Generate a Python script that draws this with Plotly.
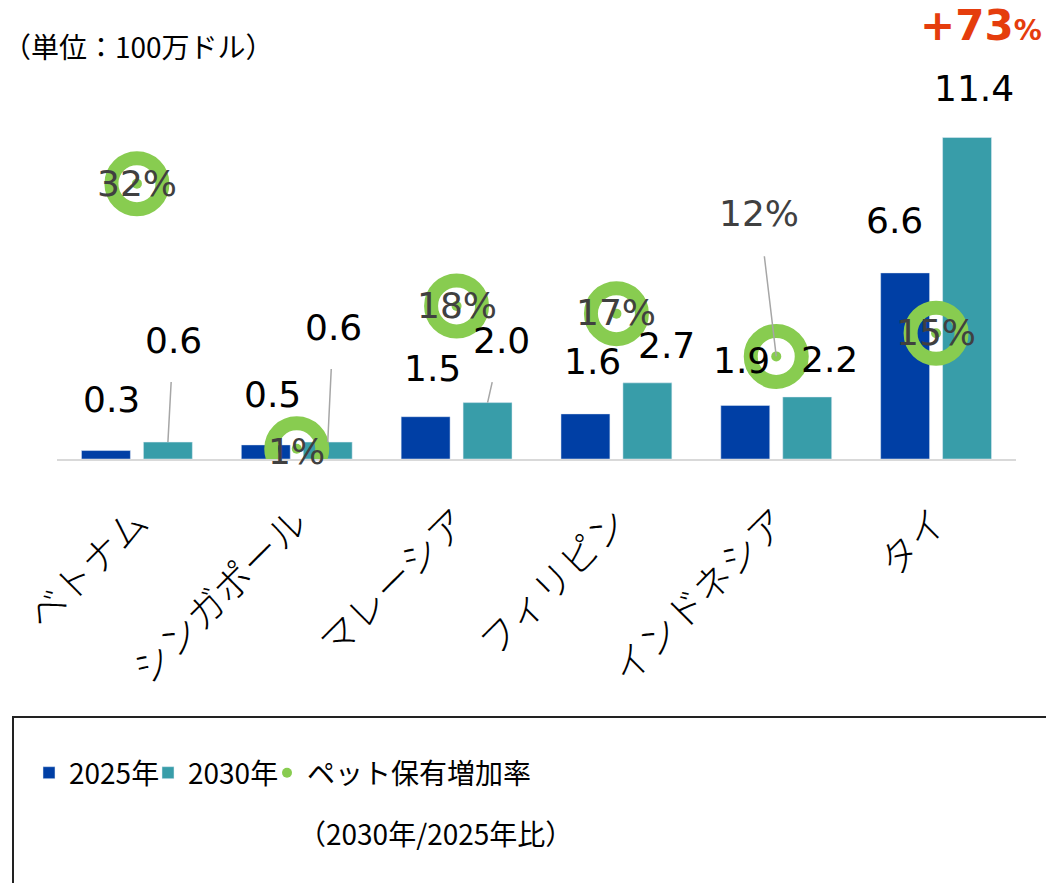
import plotly.graph_objects as go

# ---------------- data ----------------
categories = ["ベトナム", "シンガポール", "マレーシア", "フィリピン", "インドネシア", "タイ"]
sales_2025 = [0.3, 0.5, 1.5, 1.6, 1.9, 6.6]      # 100万ドル
sales_2030 = [0.6, 0.6, 2.0, 2.7, 2.2, 11.4]     # 100万ドル
pet_growth = [32.2, 1.2, 17.9, 17.0, 12.0, 14.7]  # % (2030年/2025年比)

series_names = ["2025年", "2030年"]
growth_name = "ペット保有増加率"
growth_note = "（2030年/2025年比）"
unit_title = "（単位：100万ドル）"

# ---------------- style ----------------
BLUE = "#003FA5"
TEAL = "#389DA9"
GREEN = "#88CC50"
RED = "#E53D0D"
LEADER = "#A6A6A6"
NUM_FONT = "DejaVu Sans"
JP_FONT = "Noto Sans CJK JP"

W, H = 1046, 883
L, R, T, B = 57, 30, 60, 424
PLOT_H = H - T - B
PLOT_W = W - L - R
PX_PER_UNIT = 28.2
PX_PER_PCT = 8.551
BAR_SHIFT = 31

# label offsets (dx, dy up, leader line?) relative to the top centre of each bar
off_2025 = [(5.5, 51.5, False), (6.5, 50, False), (6.5, 48, False),
            (7, 52, False), (-3.5, 45, False), (-10.5, 52, False)]
off_2030 = [(5.5, 102, True), (5.5, 115, True), (14, 62, True),
            (19, 37, False), (22.5, 37, False), (6.5, 49.5, False)]
off_pct = [(0, 0, False), (0, -2.5, False), (0, 0, False),
           (0, 1, False), (-17, 143, True), (0, 1, False)]

fig = go.Figure()
fig.add_bar(x=categories, y=sales_2025, name=series_names[0], marker_color=BLUE,
            hoverinfo="skip")
fig.add_bar(x=categories, y=sales_2030, name=series_names[1], marker_color=TEAL,
            hoverinfo="skip")
fig.add_scatter(x=categories, y=pet_growth, yaxis="y2", mode="markers",
                marker=dict(symbol="circle-open", size=51, color=GREEN,
                            line=dict(width=14)),
                showlegend=False, legendgroup="g", hoverinfo="skip")
fig.add_scatter(x=categories, y=pet_growth, yaxis="y2", mode="markers",
                marker=dict(symbol="circle", size=10, color=GREEN),
                name=growth_name, legendgroup="g", legendwidth=260,
                hoverinfo="skip")

ann = []

def value_label(cat, val, text, yref, shift, off, color, startoff=20):
    dx, dy, leader = off
    a = dict(x=cat, y=val, xref="x", yref=yref, text=text,
             font=dict(family=NUM_FONT, size=36, color=color), xshift=shift)
    if leader:
        a.update(showarrow=True, ax=dx, ay=-dy, arrowhead=0, arrowwidth=1.5,
                 arrowcolor=LEADER, startstandoff=startoff)
    else:
        a.update(showarrow=False, xanchor="center", yanchor="middle",
                 xshift=shift + dx, yshift=dy)
    return a

for i, c in enumerate(categories):
    ann.append(value_label(c, sales_2025[i], f"{sales_2025[i]:.1f}", "y", -BAR_SHIFT,
                           off_2025[i], "black"))
    ann.append(value_label(c, sales_2030[i], f"{sales_2030[i]:.1f}", "y", BAR_SHIFT,
                           off_2030[i], "black"))
    ann.append(value_label(c, pet_growth[i], f"{round(pet_growth[i])}%", "y2", 0,
                           off_pct[i], "#404040", startoff=21))

# growth of the largest market (タイ)
tai = categories.index("タイ")
growth = round((sales_2030[tai] / sales_2025[tai] - 1) * 100)
ann.append(dict(x=categories[tai], y=sales_2030[tai], xref="x", yref="y",
                text=f"<b>+{growth}<span style='font-size:28px'>%</span></b>",
                showarrow=False, xanchor="center", yanchor="middle",
                xshift=44.5, yshift=112,
                font=dict(family=NUM_FONT, size=42, color=RED)))

# unit title
ann.append(dict(x=(1 - L) / PLOT_W, y=(H - B - 46) / PLOT_H, xref="paper", yref="paper",
                text=unit_title, showarrow=False, xanchor="left", yanchor="middle",
                font=dict(family=JP_FONT, size=28, color="black")))
# legend note
ann.append(dict(x=(296 - L) / PLOT_W, y=(H - B - 833) / PLOT_H, xref="paper", yref="paper",
                text=growth_note, showarrow=False, xanchor="left", yanchor="middle",
                font=dict(family=JP_FONT, size=28, color="black")))

shapes = [dict(type="rect", xref="paper", yref="paper",
               x0=(13 - L) / PLOT_W, x1=1.3,
               y0=-1.5, y1=(H - B - 717) / PLOT_H,
               line=dict(color="#222222", width=2), fillcolor="rgba(0,0,0,0)")]

fig.update_layout(
    width=W, height=H,
    margin=dict(l=L, r=R, t=T, b=B, autoexpand=False),
    plot_bgcolor="white", paper_bgcolor="white",
    barmode="group", bargap=0.225, bargroupgap=0.21,
    font=dict(family=NUM_FONT, color="black"),
    xaxis=dict(showline=True, linecolor="#D9D9D9", linewidth=2, showgrid=False,
               range=[-0.5, len(categories) - 0.5],
               tickangle=-45, ticks="", ticklabelstandoff=24, automargin=False,
               tickfont=dict(family=JP_FONT, size=38, color="black", weight=300)),
    yaxis=dict(range=[0, PLOT_H / PX_PER_UNIT], visible=False),
    yaxis2=dict(range=[0, PLOT_H / PX_PER_PCT], overlaying="y", visible=False),
    legend=dict(orientation="h", x=(29 - L) / PLOT_W, xanchor="left",
                y=(H - B - 773) / PLOT_H, yanchor="middle",
                entrywidth=74, entrywidthmode="pixels",
                font=dict(family=JP_FONT, size=28, color="black"),
                bgcolor="rgba(0,0,0,0)", traceorder="normal"),
    annotations=ann,
    shapes=shapes,
    hovermode=False,
)

fig.write_html("out.html", config={"displayModeBar": False},
               post_script="document.body.style.margin='0';")
